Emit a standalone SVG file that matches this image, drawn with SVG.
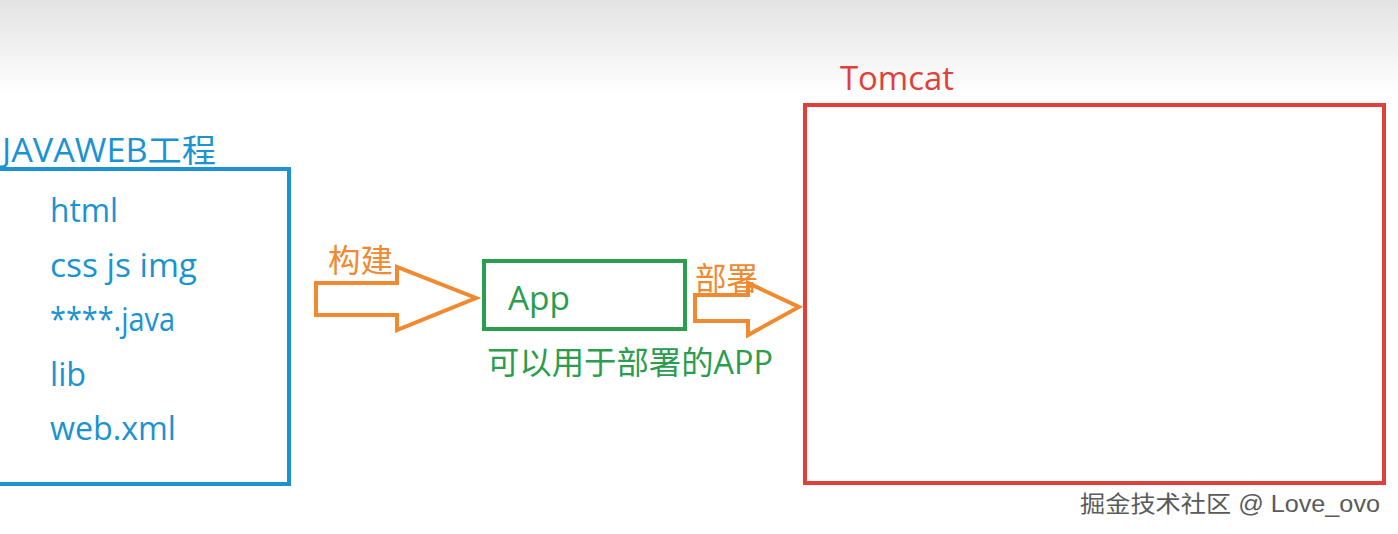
<svg xmlns="http://www.w3.org/2000/svg" width="1398" height="534" viewBox="0 0 1398 534">
<defs>
<linearGradient id="bg" x1="0" y1="0" x2="0" y2="1">
<stop offset="0" stop-color="#e3e3e3"/>
<stop offset="1" stop-color="#ffffff"/>
</linearGradient>
<style>
text{font-family:"Open Sans","Noto Sans","Noto Sans CJK SC",sans-serif;font-size:32px}
.blue{fill:#1b93d2}
.red{fill:#e0403a}
.green{fill:#2a9d4e}
.orange{fill:#f0892f}
.arrow{fill:#ffffff;stroke:#f0892f;stroke-width:4;stroke-linejoin:miter}
.wm{font-family:"Liberation Sans","Noto Sans CJK SC",sans-serif;font-size:23px;fill:#5a5a5a}
</style>
</defs>
<rect x="0" y="0" width="1398" height="534" fill="#ffffff"/>
<rect x="0" y="0" width="1398" height="95" fill="url(#bg)"/>

<g id="javaweb">
<rect x="-10" y="169" width="299" height="315" fill="none" stroke="#1b93d2" stroke-width="4"/>
<text class="blue" x="2" y="162" textLength="214" lengthAdjust="spacingAndGlyphs">JAVAWEB工程</text>
<text class="blue" x="50" y="222" textLength="68" lengthAdjust="spacingAndGlyphs">html</text>
<text class="blue" x="50" y="277" textLength="147" lengthAdjust="spacingAndGlyphs">css js img</text>
<text class="blue" x="50" y="331" textLength="125" lengthAdjust="spacingAndGlyphs">****.java</text>
<text class="blue" x="50" y="386" textLength="36" lengthAdjust="spacingAndGlyphs">lib</text>
<text class="blue" x="50" y="440" textLength="126" lengthAdjust="spacingAndGlyphs">web.xml</text>
</g>

<g id="app">
<rect x="484" y="261" width="201" height="68" fill="none" stroke="#2a9d4e" stroke-width="4"/>
<text class="green" x="508" y="310" textLength="62" lengthAdjust="spacingAndGlyphs">App</text>
<text class="green" x="487" y="374" textLength="286" lengthAdjust="spacingAndGlyphs">可以用于部署的APP</text>
</g>

<g id="tomcat">
<rect x="805" y="105" width="579" height="378" fill="none" stroke="#e0403a" stroke-width="4"/>
<text class="red" x="840" y="90" textLength="114" lengthAdjust="spacingAndGlyphs">Tomcat</text>
</g>

<g id="connectors">
<polygon class="arrow" points="316,283 397,283 397,267 476,298 397,330 397,315 316,315"/>
<text class="orange" x="328" y="272" textLength="65" lengthAdjust="spacingAndGlyphs">构建</text>
<polygon class="arrow" points="695,295 748,295 748,283 799,307 748,335 748,321 695,321"/>
<text class="orange" x="695" y="290" textLength="63" lengthAdjust="spacingAndGlyphs">部署</text>
</g>

<g id="watermark">
<text class="wm" x="1081" y="513" fill="#ffffff" style="fill:#ffffff" textLength="300" lengthAdjust="spacingAndGlyphs">掘金技术社区 @ Love_ovo</text>
<text class="wm" x="1080" y="512" textLength="300" lengthAdjust="spacingAndGlyphs">掘金技术社区 @ Love_ovo</text>
</g>
</svg>
